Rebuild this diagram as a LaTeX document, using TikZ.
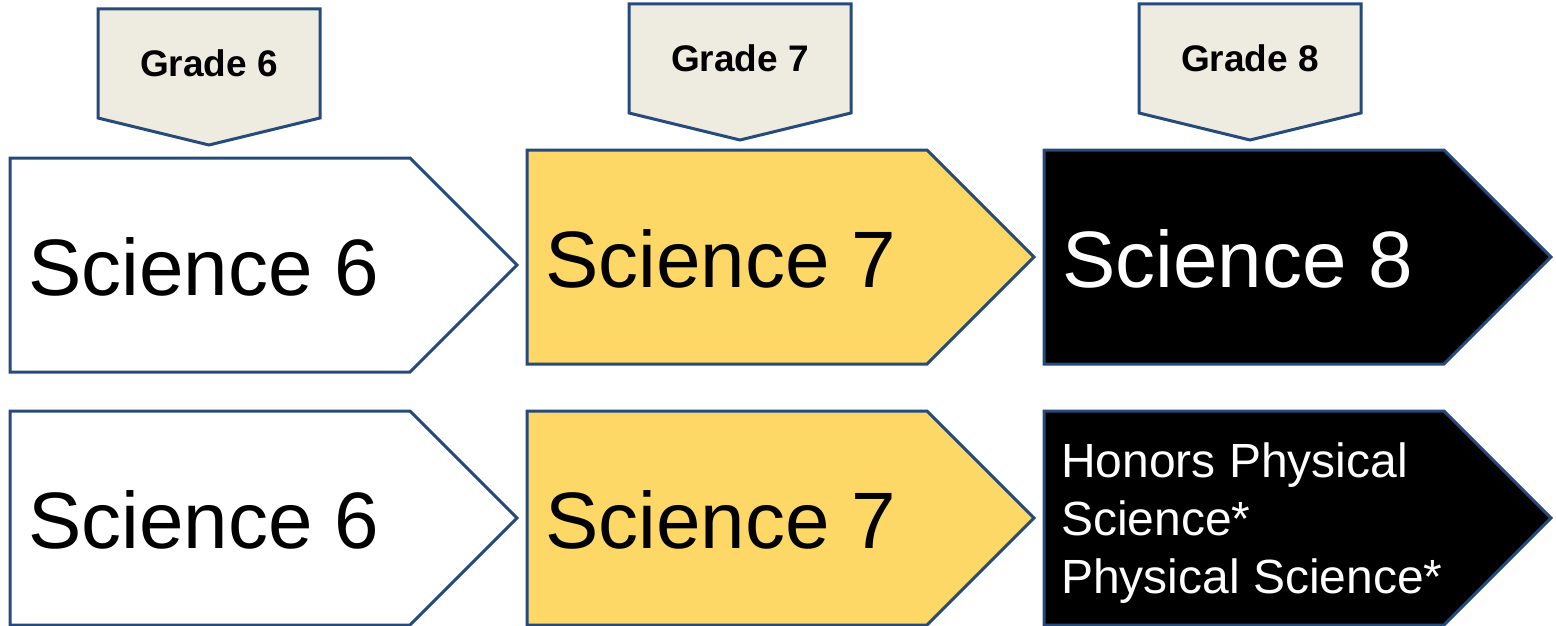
\documentclass[tikz,border=0pt]{standalone}
\usepackage{fontspec}
\setmainfont{Liberation Sans}
\usepackage{tikz}
\usetikzlibrary{calc}

\definecolor{edgeblue}{RGB}{38,74,124}
\definecolor{tagfill}{RGB}{238,236,225}
\definecolor{gold}{RGB}{253,216,102}

\tikzset{
  tagshape/.style={draw=edgeblue,line width=3pt,fill=tagfill,line join=miter},
  chevshape/.style={draw=edgeblue,line width=3pt,line join=miter},
  gradetext/.style={font=\bfseries\fontsize{37}{44}\selectfont,anchor=base,inner sep=0pt},
  coursetext/.style={font=\fontsize{80}{96}\selectfont,anchor=base west,inner sep=0pt},
  smalltext/.style={font=\fontsize{48}{58}\selectfont,anchor=north west,inner sep=0pt,align=left}
}

\newcommand{\chevron}[4]{% left, top, fill, name
  \draw[chevshape,fill=#3] (#1,#2) -- ++(400,0) -- ++(107,107) -- ++(-107,107) -- ++(-400,0) -- cycle;
  \coordinate (#4) at (#1,#2+107);
}

\begin{document}
\begin{tikzpicture}[x=1pt,y=-1pt]
  \useasboundingbox (0,0) rectangle (1556,626);

  % grade tags
  \foreach \gx/\gy/\g in {98/9/6, 629/4/7, 1139/4/8} {
    \draw[tagshape] (\gx,\gy) -- ++(222,0) -- ++(0,109) -- ++(-111,27) -- ++(-111,-27) -- cycle;
    \node[gradetext] (grade\g) at (\gx+111,\gy+68) {Grade \g};
  }

  % first row
  \chevron{10}{158}{white}{rowa6}
  \chevron{527}{150}{gold}{rowa7}
  \chevron{1044}{150}{black}{rowa8}
  \node[coursetext] (sciA6) at ($(rowa6)+(18,30)$) {Science 6};
  \node[coursetext] (sciA7) at ($(rowa7)+(18,30)$) {Science 7};
  \node[coursetext,text=white] (sciA8) at ($(rowa8)+(18,30)$) {Science 8};

  % second row
  \chevron{10}{411}{white}{rowb6}
  \chevron{527}{411}{gold}{rowb7}
  \chevron{1044}{411}{black}{rowb8}
  \node[coursetext] (sciB6) at ($(rowb6)+(18,30)$) {Science 6};
  \node[coursetext] (sciB7) at ($(rowb7)+(18,30)$) {Science 7};
  \node[smalltext,text=white] (physB8) at (1061,443) {Honors Physical\\Science*\\Physical Science*};
\end{tikzpicture}
\end{document}
